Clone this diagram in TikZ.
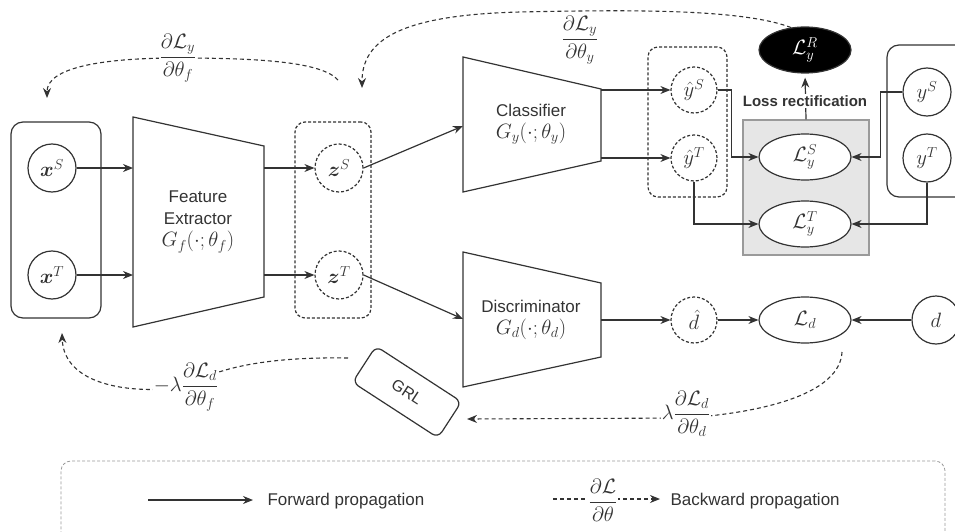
\documentclass[tikz,border=0pt]{standalone}
\usepackage{amsmath,bm}
\usepackage[no-math]{fontspec}
\setmainfont{Liberation Sans}
\usetikzlibrary{shapes.geometric,arrows.meta}
\definecolor{ln}{HTML}{333333}
\definecolor{gbox}{HTML}{E6E6E6}
\definecolor{gedge}{HTML}{9A9A9A}
\newcommand\mathfs{\fontsize{20}{24}\selectfont}
\newcommand\txtfs{\fontsize{17}{22}\selectfont}
\begin{document}
\begin{tikzpicture}[x=1pt,y=-1pt,
  fwd/.style={draw=ln, line width=1.2pt, -{Stealth[length=10pt,width=8pt]}},
  bwd/.style={draw=ln, line width=1.1pt, dash pattern=on 4pt off 3pt, -{Stealth[length=10pt,width=8pt]}},
  trap/.style={draw=ln, line width=1.2pt, fill=white},
  circ/.style={circle, draw=ln, line width=1.2pt, minimum size=48pt, inner sep=0pt, font=\mathfs, text=ln, fill=white},
  dcirc/.style={circ, dash pattern=on 3pt off 2pt},
  ell/.style={ellipse, draw=ln, line width=1.2pt, minimum width=92pt, minimum height=46pt, inner sep=0pt, fill=white, font=\mathfs, text=ln},
  txt/.style={font=\txtfs, text=ln, align=center},
  lab/.style={fill=white, inner sep=1pt, font=\mathfs, text=ln},
  sbox/.style={draw=ln, line width=1.2pt, rounded corners=12pt},
  dbox/.style={draw=ln, line width=1.2pt, dash pattern=on 3pt off 2pt, rounded corners=10pt}]
\useasboundingbox (0,0) rectangle (955,532);
\clip (0,0) rectangle (955,532);

% legend box
\node[draw=gedge, line width=0.8pt, dash pattern=on 3pt off 2pt, rounded corners=10pt,
      minimum width=884pt, minimum height=90pt, inner sep=0pt] (legend) at (503,506) {};

% group boxes
\node[sbox, minimum width=90pt, minimum height=196pt] (inbox) at (56,220) {};
\node[dbox, minimum width=76pt, minimum height=196pt] (zbox) at (333,220) {};
\node[dbox, minimum width=79pt, minimum height=150pt] (yhbox) at (687.5,122) {};
\node[sbox, minimum width=100pt, minimum height=152pt] (ybox) at (937,121) {};
\node[draw=gedge, line width=1.2pt, fill=gbox, minimum width=126pt, minimum height=135pt, inner sep=0pt] (gray) at (806,187.5) {};

% trapezoids
\draw[trap] (133,117) -- (264,146) -- (264,297) -- (133,327) -- cycle;
\node[txt] (fe) at (198,222) {Feature\\Extractor\\{\mathfs$G_f(\cdot;\theta_f)$}};
\draw[trap] (463,57) -- (601,89) -- (601,161) -- (463,192) -- cycle;
\node[txt] (cls) at (531,124) {Classifier\\{\mathfs$G_y(\cdot;\theta_y)$}};
\draw[trap] (463,252) -- (601,283) -- (601,357) -- (463,387) -- cycle;
\node[txt] (dis) at (531,320) {Discriminator\\{\mathfs$G_d(\cdot;\theta_d)$}};

\coordinate (fein1) at (133,168);
\coordinate (fein2) at (133,275);
\coordinate (feout1) at (264,168);
\coordinate (feout2) at (264,275);
\coordinate (clsin) at (463,126);
\coordinate (clsout1) at (601,90);
\coordinate (clsout2) at (601,158);
\coordinate (disin) at (463,319);
\coordinate (disout) at (601,320);

% nodes
\node[circ] (xS) at (52,168) {$\bm{x}^S$};
\node[circ] (xT) at (52,275) {$\bm{x}^T$};
\node[dcirc] (zS) at (339,168) {$\bm{z}^S$};
\node[dcirc] (zT) at (339,275) {$\bm{z}^T$};
\node[dcirc, minimum size=46pt] (yhS) at (694,90) {$\hat{y}^S$};
\node[dcirc, minimum size=46pt] (yhT) at (694,158) {$\hat{y}^T$};
\node[circ] (yS) at (927,92) {$y^S$};
\node[circ] (yT) at (927,158) {$y^T$};
\node[dcirc, minimum size=46pt] (dh) at (694,320) {$\hat{d}$};
\node[circ] (d) at (936,320) {$d$};
\node[ell] (LyS) at (805,157) {$\mathcal{L}_y^S$};
\node[ell] (LyT) at (805,224) {$\mathcal{L}_y^T$};
\node[ell, fill=black, text=white] (LyR) at (805,50) {$\mathcal{L}_y^R$};
\node[ell] (Ld) at (805,320) {$\mathcal{L}_d$};

% forward connectors
\draw[fwd] (xS) -- (fein1);
\draw[fwd] (xT) -- (fein2);
\draw[fwd] (feout1) -- (zS);
\draw[fwd] (feout2) -- (zT);
\draw[fwd] (zS.east) -- (clsin);
\draw[fwd] (zT.east) -- (disin);
\draw[fwd] (clsout1) -- (yhS);
\draw[fwd] (clsout2) -- (yhT);
\draw[fwd] (yhS.east) -- ++(14,0) |- (LyS.west);
\draw[fwd] (yhT.south) |- (LyT.west);
\draw[fwd] (yS.west) -- ++(-22,0) |- (LyS.east);
\draw[fwd] (yT.south) |- (LyT.east);
\draw[fwd] (disout) -- (dh);
\draw[fwd] (dh) -- (Ld);
\draw[fwd] (d) -- (Ld);
\draw[fwd, shorten >=4pt] (gray.north) -- (LyR.south);
\node[font=\fontsize{15}{18}\selectfont\bfseries, text=ln, fill=white, inner sep=1pt] (lossr) at (805,101) {Loss rectification};

% GRL
\node[draw=ln, line width=1.2pt, rounded corners=7pt, minimum width=102pt, minimum height=43pt,
      rotate=-33, font=\fontsize{16}{18}\selectfont, text=ln, fill=white] (grl) at (407,392) {GRL};

% backward connectors
\coordinate (b1s) at (338,80);
\coordinate (b1e) at (47,98);
\draw[bwd] (b1s) .. controls (322,62) and (260,58) .. (178,58) .. controls (100,58) and (47,68) .. (b1e);
\node[lab] (lab1) at (178,58) {$\dfrac{\partial\mathcal{L}_y}{\partial\theta_f}$};

\coordinate (b2e) at (362,88);
\draw[bwd] (LyR.122) .. controls (740,8) and (620,10) .. (520,12) .. controls (400,15) and (362,40) .. (b2e);
\node[font=\mathfs, text=ln, inner sep=0pt] (lab2) at (580,40) {$\dfrac{\partial\mathcal{L}_y}{\partial\theta_y}$};

\coordinate (b3s) at (348,358);
\coordinate (b3e) at (62,333);
\coordinate (lab3c) at (186,387);
\draw[bwd] (b3s) .. controls (290,357) and (225,362) .. (lab3c) .. controls (130,395) and (64,385) .. (b3e);
\node[lab] (lab3) at (lab3c) {$-\lambda\dfrac{\partial\mathcal{L}_d}{\partial\theta_f}$};

\coordinate (b4s) at (842,352);
\coordinate (b4e) at (467,419);
\coordinate (lab4c) at (686,418);
\draw[bwd] (b4s) .. controls (840,392) and (770,412) .. (lab4c) -- (b4e);
\node[lab] (lab4) at (686,414) {$\lambda\dfrac{\partial\mathcal{L}_d}{\partial\theta_d}$};

% legend
\coordinate (f1) at (148,500);
\coordinate (f2) at (253,500);
\draw[fwd] (f1) -- (f2);
\node[txt, anchor=west] (ftxt) at (264,501) {Forward propagation};
\coordinate (g1) at (553,499);
\coordinate (g2) at (660,499);
\draw[bwd] (g1) -- (g2);
\node[lab] (glab) at (603,500) {$\dfrac{\partial\mathcal{L}}{\partial\theta}$};
\node[txt, anchor=west] (btxt) at (667,501) {Backward propagation};
\end{tikzpicture}
\end{document}
